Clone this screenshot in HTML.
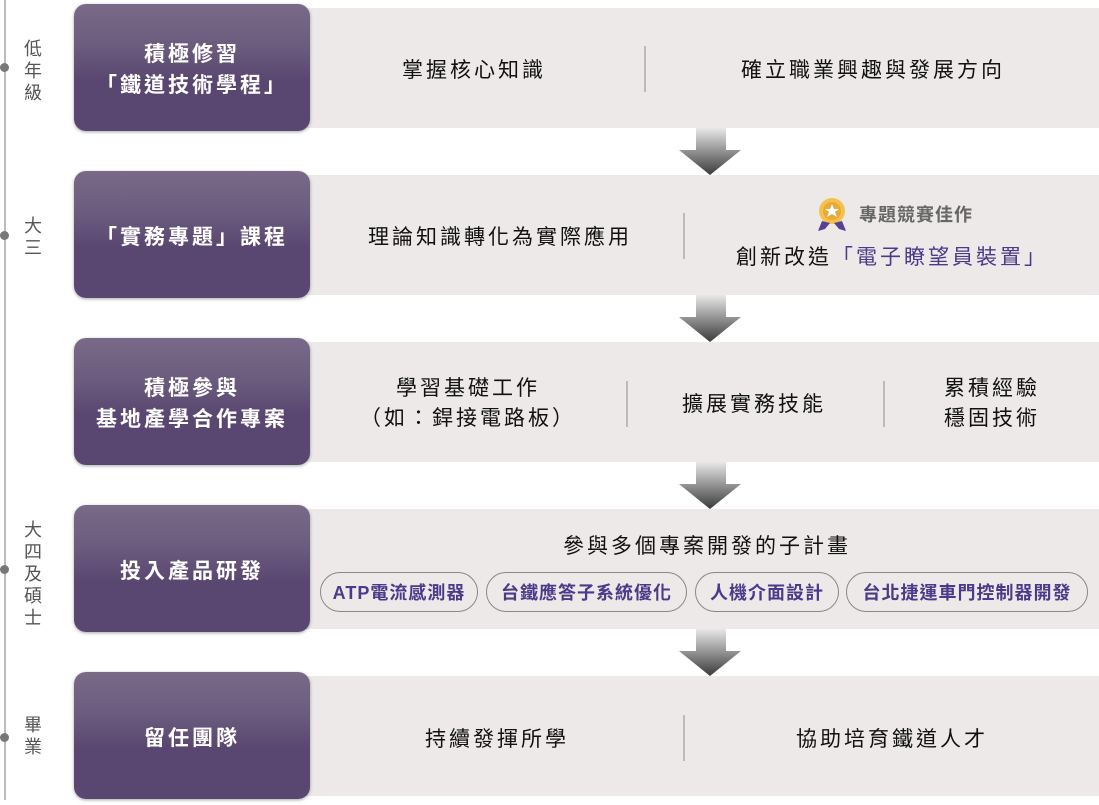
<!DOCTYPE html>
<html><head><meta charset="utf-8"><style>
*{margin:0;padding:0;box-sizing:border-box}
body{width:1099px;height:805px;background:#fff;position:relative;overflow:hidden;font-family:"Liberation Sans","Noto Sans CJK TC",sans-serif}
.a{position:absolute}
.bar{position:absolute;left:300px;width:799px;height:120px;background:#ece9e8}
.box{position:absolute;left:74px;width:236px;height:127px;padding-top:5px;border-radius:12px;background:linear-gradient(#7a6a88 0%,#6a5a7d 35%,#5a4771 60%,#5a4771 100%);box-shadow:0 1px 3px rgba(0,0,0,.35);color:#fff;font-size:21px;font-weight:bold;letter-spacing:3px;display:flex;align-items:center;justify-content:center;text-align:center;line-height:31px}
.t{position:absolute;font-size:21px;letter-spacing:3px;color:#111;text-align:center;line-height:30px;transform:translateX(-50%);white-space:nowrap}
.sep{position:absolute;width:2px;height:46px;background:#bbb}
.g{position:absolute;left:23px;width:20px;font-size:18px;color:#555;line-height:22px;text-align:center}
.dot{position:absolute;left:0;width:9px;height:9px;border-radius:50%;background:#777}
.pill{position:absolute;top:572px;height:40px;border:1px solid #888;border-radius:20px;color:#4a3a8a;font-weight:bold;font-size:18px;letter-spacing:1px;line-height:40px;text-align:center;white-space:nowrap}
</style></head><body>
<div class="a" style="left:4px;top:0;width:2px;height:800px;background:#bbb"></div>
<div class="dot" style="top:63px"></div><div class="dot" style="top:231px"></div><div class="dot" style="top:565px"></div><div class="dot" style="top:733px"></div>
<div class="g" style="top:38px">低年級</div>
<div class="g" style="top:215px">大三</div>
<div class="g" style="top:519px">大四及碩士</div>
<div class="g" style="top:714px">畢業</div>

<div class="bar" style="top:8px"></div>
<div class="bar" style="top:175px"></div>
<div class="bar" style="top:342px"></div>
<div class="bar" style="top:509px"></div>
<div class="bar" style="top:676px"></div>

<svg class="a" style="left:0;top:0" width="1099" height="805">
<defs><linearGradient id="ar" x1="0" y1="0" x2="0" y2="1"><stop offset="0" stop-color="#e8e8e8"/><stop offset="1" stop-color="#3a3a3a"/></linearGradient></defs>
<g fill="url(#ar)">
<path d="M696 128h30v22h15l-31 25-31-25h17z"/>
<path d="M696 295h30v22h15l-31 25-31-25h17z"/>
<path d="M696 462h30v22h15l-31 25-31-25h17z"/>
<path d="M696 629h30v22h15l-31 25-31-25h17z"/>
</g>
<circle cx="832" cy="211" r="13" fill="#f2c24a"/><circle cx="832" cy="211" r="9" fill="#e9a93a"/>
<polygon points="832,204 834,209 839,209 835,212 837,217 832,214 827,217 829,212 825,209 830,209" fill="#fff"/>
<polygon points="822,221 818,231 825,229 830,223" fill="#5a3f96"/><polygon points="842,221 846,231 839,229 834,223" fill="#5a3f96"/>
</svg>

<div class="box" style="top:4px">積極修習<br>「鐵道技術學程」</div>
<div class="box" style="top:171px">「實務專題」課程</div>
<div class="box" style="top:338px">積極參與<br>基地產學合作專案</div>
<div class="box" style="top:505px">投入產品研發</div>
<div class="box" style="top:672px">留任團隊</div>

<div class="t" style="left:474px;top:56px">掌握核心知識</div>
<div class="sep" style="left:644px;top:46px"></div>
<div class="t" style="left:873px;top:56px">確立職業興趣與發展方向</div>

<div class="t" style="left:500px;top:223px">理論知識轉化為實際應用</div>
<div class="sep" style="left:683px;top:213px"></div>
<div class="t" style="left:916px;top:200px;font-size:18px;letter-spacing:1px;color:#666;font-weight:bold">專題競賽佳作</div>
<div class="t" style="left:892px;top:243px">創新改造<span style="color:#4a3a8a">「電子瞭望員裝置」</span></div>

<div class="t" style="left:468px;top:374px">學習基礎工作<br>（如：銲接電路板）</div>
<div class="sep" style="left:626px;top:381px"></div>
<div class="t" style="left:754px;top:390px">擴展實務技能</div>
<div class="sep" style="left:883px;top:381px"></div>
<div class="t" style="left:992px;top:374px">累積經驗<br>穩固技術</div>

<div class="t" style="left:707px;top:532px">參與多個專案開發的子計畫</div>
<div class="pill" style="left:320px;width:158px">ATP電流感測器</div>
<div class="pill" style="left:486px;width:201px">台鐵應答子系統優化</div>
<div class="pill" style="left:695px;width:144px">人機介面設計</div>
<div class="pill" style="left:846px;width:242px">台北捷運車門控制器開發</div>

<div class="t" style="left:497px;top:725px">持續發揮所學</div>
<div class="sep" style="left:683px;top:715px"></div>
<div class="t" style="left:892px;top:725px">協助培育鐵道人才</div>
</body></html>
